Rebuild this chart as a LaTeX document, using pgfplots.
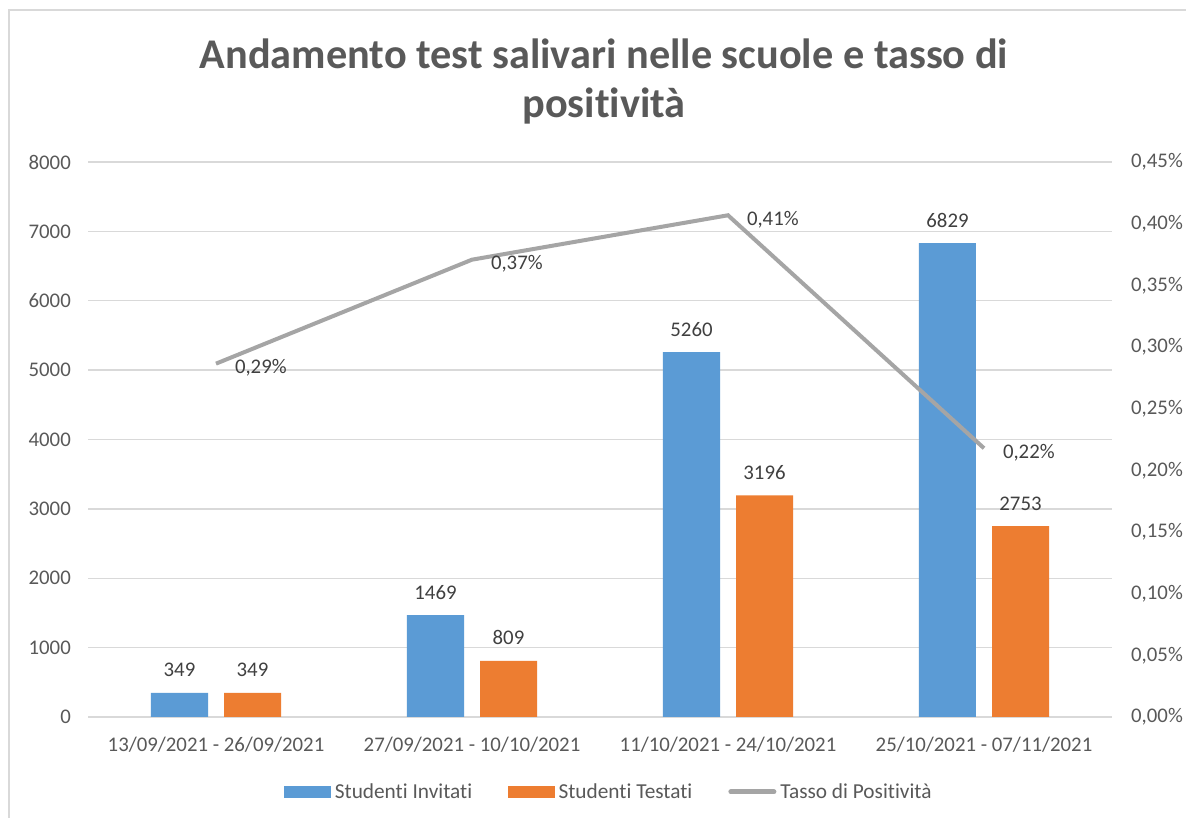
\documentclass[border=0pt]{standalone}
\usepackage{pgfplots}
\pgfplotsset{compat=1.18}
\usepackage{fontspec}
\setmainfont{Carlito}[Ligatures=NoCommon]
\definecolor{cblue}{HTML}{5B9BD5}
\definecolor{corange}{HTML}{ED7D31}
\definecolor{cgray}{HTML}{A5A5A5}
\definecolor{cgrid}{HTML}{D9D9D9}
\definecolor{ctext}{HTML}{595959}
\definecolor{clabel}{HTML}{404040}
\begin{document}
\begin{tikzpicture}[x=1pt,y=1pt]
\useasboundingbox (0,0) rectangle (1186,818);
\fill[white] (0,0) rectangle (1186,818);
\draw[cgrid, line width=1.5pt] (9,0) -- (9,808) -- (1186,808);
\node[anchor=base, text=ctext, font=\fontsize{42.3}{50}\selectfont\bfseries] at (604,749) {Andamento test salivari nelle scuole e tasso di};
\node[anchor=base, text=ctext, font=\fontsize{42.3}{50}\selectfont\bfseries] at (604,700) {positività};
\begin{axis}[
  at={(88pt,101pt)}, anchor=south west,
  scale only axis, width=1024pt, height=555pt,
  xmin=-0.5, xmax=3.5, ymin=0, ymax=8000,
  xtick={0,1,2,3},
  xticklabels={13/09/2021 - 26/09/2021, 27/09/2021 - 10/10/2021, 11/10/2021 - 24/10/2021, 25/10/2021 - 07/11/2021},
  ytick={0,1000,...,8000},
  axis line style={draw=none},
  major tick length=0pt,
  ymajorgrids, grid style={cgrid, line width=1.3pt},
  /pgf/number format/assume math mode=true,
  /pgf/number format/set thousands separator={},
  tick label style={font=\fontsize{20.8}{24}\selectfont, text=ctext, inner sep=0pt},
  xticklabel style={anchor=north, yshift=-20pt},
  yticklabel style={anchor=east, xshift=-17pt},
  ybar, bar width=57pt,
  nodes near coords,
  every node near coord/.append style={font=\fontsize{20.8}{24}\selectfont, text=clabel, anchor=base, inner sep=0pt, yshift=16pt},
  clip=false,
]
\addplot[fill=cblue, draw=none, bar shift=-36.5pt] coordinates {(0,349) (1,1469) (2,5260) (3,6829)};
\addplot[fill=corange, draw=none, bar shift=36.5pt] coordinates {(0,349) (1,809) (2,3196) (3,2753)};
\end{axis}
\begin{axis}[
  at={(88pt,101pt)}, anchor=south west,
  scale only axis, width=1024pt, height=555pt,
  xmin=-0.5, xmax=3.5, ymin=0, ymax=0.45,
  axis x line=none,
  axis y line*=right,
  axis line style={draw=none},
  ytick={0,0.05,...,0.46},
  major tick length=0pt,
  /pgf/number format/assume math mode=true,
  yticklabel={\pgfmathprintnumber[fixed,fixed zerofill,precision=2,use comma]{\tick}\%},
  tick label style={font=\fontsize{20.8}{24}\selectfont, text=ctext, inner sep=0pt},
  yticklabel style={anchor=west, xshift=19pt},
  clip=false,
  legend style={at={(0.5083,-0.135)}, anchor=center, draw=none, fill=none,
    legend columns=3, font=\fontsize{21.3}{25}\selectfont, text=ctext,
    /tikz/every odd column/.append style={column sep=3pt},
    /tikz/every even column/.append style={column sep=35pt},
    inner sep=0pt, nodes={inner sep=1pt}},
  legend cell align=left,
]
\addlegendimage{legend image code/.code={\fill[cblue] (0pt,-5.5pt) rectangle (46pt,5.5pt);}}
\addlegendentry{Studenti Invitati}
\addlegendimage{legend image code/.code={\fill[corange] (0pt,-5.5pt) rectangle (46pt,5.5pt);}}
\addlegendentry{Studenti Testati}
\addplot[color=cgray, line width=4pt, mark=none,
  nodes near coords={\pgfmathprintnumber[fixed,fixed zerofill,precision=2,use comma]{\pgfplotspointmeta}\%},
  every node near coord/.append style={font=\fontsize{20.8}{24}\selectfont, text=clabel, anchor=base west, inner sep=0pt, xshift=17pt, yshift=-10pt},
  legend image code/.code={\draw[cgray, line width=5pt, line cap=round] (2.5pt,0pt) -- (45.5pt,0pt);},
  point meta=y]
  coordinates {(0,0.2865) (1,0.3708) (2,0.4068) (3,0.2179)};
\addlegendentry{Tasso di Positività}
\end{axis}
\end{tikzpicture}
\end{document}
